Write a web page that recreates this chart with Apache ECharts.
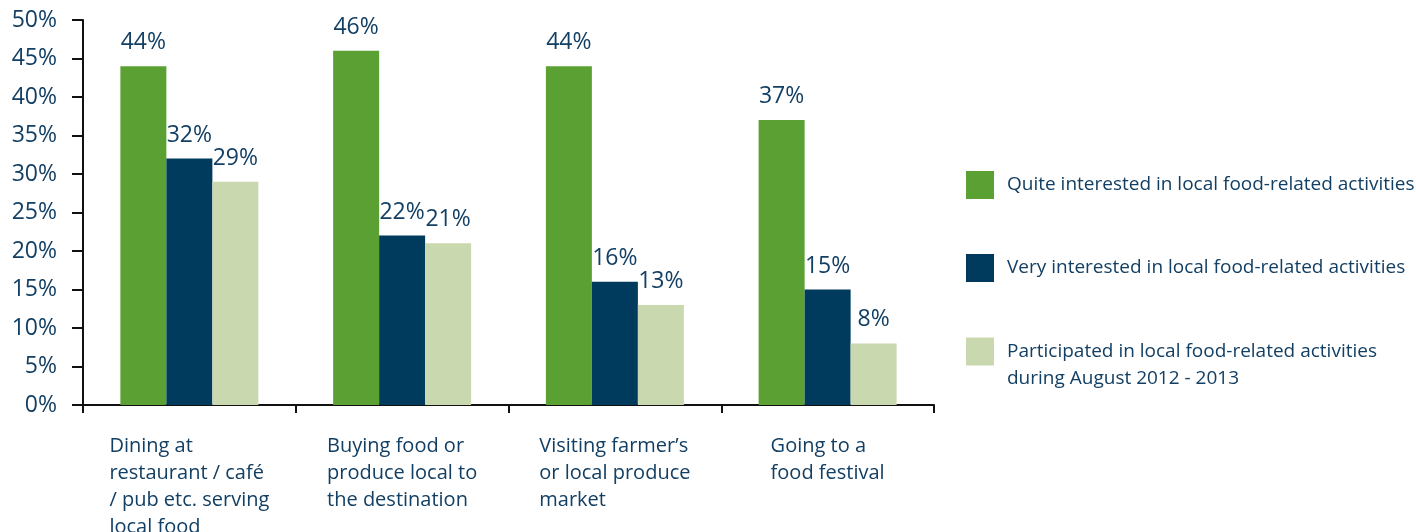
<!DOCTYPE html>
<html>
<head>
<meta charset="utf-8">
<script src="https://cdn.jsdelivr.net/npm/echarts@6/dist/echarts.min.js"></script>
<style>
html,body{margin:0;padding:0;background:#fff;}
#chart{width:1416px;height:532px;}
</style>
</head>
<body>
<div id="chart"></div>
<script>
const categories = [
  'Dining at\nrestaurant / café\n/ pub etc. serving\nlocal food',
  'Buying food or\nproduce local to\nthe destination',
  'Visiting farmer\u2019s\nor local produce\nmarket',
  'Going to a\nfood festival'
];
const seriesNames = [
  'Quite interested in local food-related activities',
  'Very interested in local food-related activities',
  'Participated in local food-related activities\nduring August 2012 - 2013'
];
const quiteInterested = [44, 46, 44, 37];
const veryInterested = [32, 22, 16, 15];
const participated = [29, 21, 13, 8];
const yTicks = { min: 0, max: 50, interval: 5 };

const colors = ['#5ba033', '#003a5d', '#c9d8af'];
const textColor = '#123f63';
const fontFamily = '"Open Sans", sans-serif';

const chart = echarts.init(document.getElementById('chart'));

function barSeries(name, data, color) {
  return {
    name: name,
    type: 'bar',
    data: data,
    barWidth: 46,
    barGap: '0%',
    itemStyle: { color: color },
    label: {
      show: true,
      position: 'top',
      distance: 12,
      formatter: '{c}%',
      color: textColor,
      fontSize: 23,
      fontFamily: fontFamily
    }
  };
}

function legendFor(idx, top, padTop) {
  return {
    orient: 'vertical',
    left: 966,
    top: top,
    padding: 0,
    itemWidth: 28,
    itemHeight: 28,
    icon: 'rect',
    selectedMode: false,
    textStyle: {
      color: textColor, fontSize: 19, fontFamily: fontFamily, lineHeight: 27,
      padding: [padTop, 0, 0, 8],
      rich: { t: { color: textColor, fontSize: 19, fontFamily: fontFamily, lineHeight: 27 } }
    },
    formatter: function (name) {
      return name.split('\n').map(s => '{t|' + s + '}').join('\n');
    },
    data: [seriesNames[idx]]
  };
}

chart.setOption({
  animation: false,
  backgroundColor: '#ffffff',
  grid: { left: 83, right: 482, top: 20, bottom: 127, containLabel: false, outerBoundsMode: 'none' },
  legend: [
    legendFor(0, 171, 0),
    legendFor(1, 254, 0),
    legendFor(2, 311, 27)
  ],
  xAxis: {
    type: 'category',
    data: categories,
    boundaryGap: true,
    axisLine: { show: true, lineStyle: { color: '#111', width: 2 } },
    axisTick: { show: true, length: 8, lineStyle: { color: '#111', width: 2 } },
    axisLabel: {
      interval: 0,
      margin: 28,
      verticalAlign: 'top',
      formatter: function (v) {
        return v.split('\n').map(s => '{a|' + s + '}').join('\n');
      },
      rich: {
        a: { color: textColor, fontSize: 20, lineHeight: 27, fontFamily: fontFamily, align: 'left' }
      }
    }
  },
  yAxis: {
    type: 'value',
    min: yTicks.min,
    max: yTicks.max,
    interval: yTicks.interval,
    splitLine: { show: false },
    axisLine: { show: true, lineStyle: { color: '#111', width: 2 } },
    axisTick: { show: true, length: 11, lineStyle: { color: '#111', width: 2 } },
    axisLabel: {
      formatter: '{value}%',
      color: textColor,
      fontSize: 23,
      fontFamily: fontFamily,
      margin: 26
    }
  },
  series: [
    barSeries(seriesNames[0], quiteInterested, colors[0]),
    barSeries(seriesNames[1], veryInterested, colors[1]),
    barSeries(seriesNames[2], participated, colors[2])
  ]
});
</script>
</body>
</html>
